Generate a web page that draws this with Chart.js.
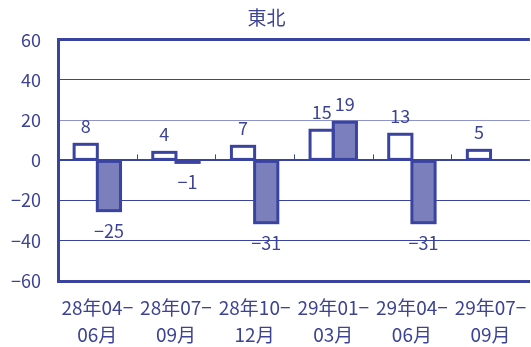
<!DOCTYPE html>
<html>
<head>
<meta charset="utf-8">
<script src="https://cdn.jsdelivr.net/npm/chart.js@4"></script>
<style>
  html, body { margin: 0; padding: 0; background: #fff; overflow: hidden; }
  #wrap { width: 540px; height: 347px; }
</style>
</head>
<body>
<div id="wrap"><canvas id="tohokuChart"></canvas></div>
<script>
'use strict';

// 東北 の値
let labels = [
  ['28年04−', '06月'],
  ['28年07−', '09月'],
  ['28年10−', '12月'],
  ['29年01−', '03月'],
  ['29年04−', '06月'],
  ['29年07−', '09月']
];
let seriesA = [8, 4, 7, 15, 13, 5];
let seriesB = [-25, -1, -31, 19, -31, null];
let yTicks = [-60, -40, -20, 0, 20, 40, 60];

const navy = '#3a44a0';
const textColor = '#3d4393';
const font = '"Noto Sans CJK JP", "Noto Sans", sans-serif';

function fmt (v) {
  return v < 0 ? '−' + Math.abs(v) : String(v);
}

// 棒の枠線を線の中心で引く（Excel風）
const barOutline = {
  id: 'barOutline',
  afterDatasetsDraw (chart) {
    let c = chart.ctx;
    c.save();
    c.strokeStyle = navy;
    c.lineWidth = 3;
    c.lineJoin = 'miter';
    chart.data.datasets.forEach((ds, di) => {
      chart.getDatasetMeta(di).data.forEach((bar, i) => {
        if (ds.data[i] === null || ds.data[i] === undefined) return;
        let left = bar.x - bar.width / 2;
        let top = Math.min(bar.y, bar.base);
        let h = Math.abs(bar.base - bar.y);
        c.strokeRect(left, top, bar.width, h);
      });
    });
    c.restore();
  }
};

// 棒の上下に値を書く
const valueLabels = {
  id: 'valueLabels',
  afterDatasetsDraw (chart) {
    let c = chart.ctx;
    c.save();
    c.font = '18px ' + font;
    c.fillStyle = textColor;
    c.textAlign = 'center';
    c.textBaseline = 'alphabetic';
    chart.data.datasets.forEach((ds, di) => {
      let meta = chart.getDatasetMeta(di);
      meta.data.forEach((bar, i) => {
        let v = ds.data[i];
        if (v === null || v === undefined) return;
        if (v >= 0) {
          c.fillText(fmt(v), bar.x, bar.y - 11);
        } else {
          c.fillText(fmt(v), bar.x, bar.y + 27);
        }
      });
    });
    c.restore();
  }
};

// ゼロ線上の区切り目盛り
const zeroTicks = {
  id: 'zeroTicks',
  beforeDatasetsDraw (chart) {
    let x = chart.scales.x;
    let y0 = chart.scales.y.getPixelForValue(0);
    let c = chart.ctx;
    c.save();
    c.strokeStyle = navy;
    c.lineWidth = 1;
    for (let i = 1; i < labels.length; i++) {
      let px = Math.round((x.getPixelForValue(i - 1) + x.getPixelForValue(i)) / 2) + 0.5;
      c.beginPath();
      c.moveTo(px, y0 - 6);
      c.lineTo(px, y0);
      c.stroke();
    }
    c.restore();
  }
};

let ctx = document.getElementById('tohokuChart').getContext('2d');

let chart = new Chart(ctx, {
  type: 'bar',
  data: {
    labels: labels,
    datasets: [{
      label: 'A',
      data: seriesA,
      backgroundColor: '#ffffff',
      borderWidth: 0
    }, {
      label: 'B',
      data: seriesB,
      backgroundColor: '#7b80bd',
      borderWidth: 0
    }]
  },
  options: {
    responsive: true,
    maintainAspectRatio: false,
    animation: false,
    layout: { padding: { left: 0, right: 7, top: 0, bottom: 0 } },
    datasets: {
      bar: { categoryPercentage: 0.59, barPercentage: 1.0, inflateAmount: 0 }
    },
    plugins: {
      legend: { display: false },
      tooltip: { enabled: false },
      title: {
        display: true,
        text: '東北',
        color: textColor,
        font: { family: font, size: 19, weight: 'normal', lineHeight: 1.2 },
        padding: { top: 6, bottom: 11 }
      }
    },
    scales: {
      x: {
        grid: { display: false, drawTicks: false },
        border: { display: true, color: navy, width: 3 },
        ticks: {
          color: textColor,
          padding: 13,
          maxRotation: 0,
          autoSkip: false,
          font: { family: font, size: 19, lineHeight: 1.42 }
        },
        afterFit (scale) { scale.height = 66; }
      },
      y: {
        min: -60,
        max: 60,
        afterBuildTicks (scale) {
          scale.ticks = yTicks.map(v => ({ value: v }));
        },
        afterFit (scale) { scale.width = 58; },
        grid: {
          drawTicks: false,
          color: c => (c.tick.value === 20 ? '#8e93c9' : navy),
          lineWidth: c => {
            let v = c.tick.value;
            if (v === 60 || v === -60) return 3;
            if (v === 0) return 2;
            return 1;
          }
        },
        border: { display: true, color: navy, width: 3 },
        ticks: {
          color: textColor,
          padding: 17,
          font: { family: font, size: 18 },
          callback: v => fmt(v)
        }
      }
    }
  },
  plugins: [barOutline, valueLabels, zeroTicks]
});
</script>
</body>
</html>
